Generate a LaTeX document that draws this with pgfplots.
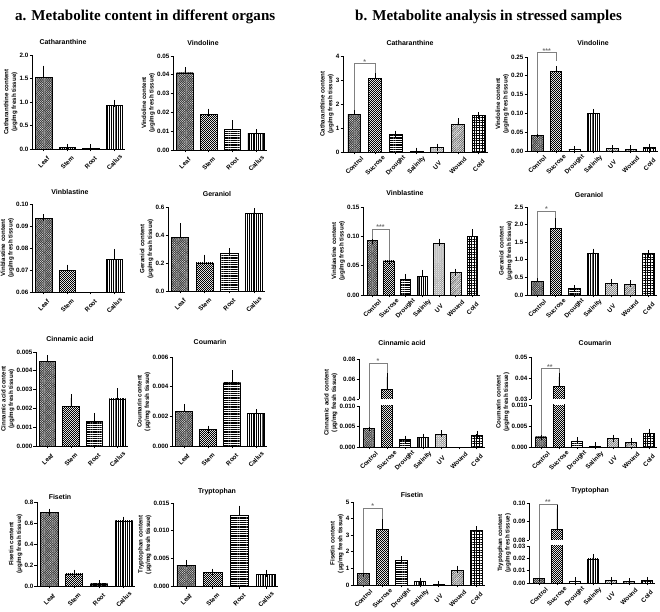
\documentclass[border=0pt]{standalone}
\usepackage{fontspec}
\setmainfont{Liberation Sans}
\newfontfamily\serifbold{Liberation Serif}
\usepackage{pgfplots}
\pgfplotsset{compat=1.18}
\usetikzlibrary{patterns,patterns.meta}
\newcommand\fs[1]{\fontsize{#1}{#1}\selectfont}

% fine checkerboard for the Stem / Sucrose bars
\pgfdeclarepatternformonly{finechecker}{\pgfqpoint{0pt}{0pt}}{\pgfqpoint{2pt}{2pt}}{\pgfqpoint{2pt}{2pt}}{%
  \pgfpathrectangle{\pgfqpoint{0pt}{0pt}}{\pgfqpoint{1pt}{1pt}}%
  \pgfpathrectangle{\pgfqpoint{1pt}{1pt}}{\pgfqpoint{1pt}{1pt}}%
  \pgfusepath{fill}}

\pgfplotsset{
  panel/.style={
    scale only axis, anchor=south west, clip mode=individual,
    axis x line*=bottom, axis y line*=left,
    axis line style={line width=0.8pt},
    every tick/.style={black, line width=0.8pt},
    major tick length=2.5bp, tick align=outside,
    ymin=0, scaled y ticks=false,
    /pgf/number format/assume math mode=true,
    tick label style={font=\bfseries\fs{6.3}},
    yticklabel style={/pgf/number format/fixed, /pgf/number format/fixed zerofill, inner sep=1bp},
    xticklabel style={yshift=-11bp, rotate=45, anchor=center, inner sep=0pt},
    every axis title/.style={at={(0.5,1)}, anchor=center, font=\bfseries\fs{7}, inner sep=0pt},
    ylabel style={font=\bfseries\fontsize{6.2}{7.6}\selectfont, align=center, inner sep=1bp},
  },
  organ/.style={panel, xmin=-0.5, xmax=3.45, bar width=0.7,
    xtick={0,1,2,3}, xticklabels={Leaf,Stem,Root,Callus}},
  stress/.style={panel, xmin=-0.55, xmax=6.45, bar width=0.62,
    xtick={0,1,2,3,4,5,6}, xticklabels={Control,Sucrose,Drought,Salinity,UV,Wound,Cold}},
  prec/.style={yticklabel style={/pgf/number format/precision=#1}},
  ttl/.style 2 args={title style={xshift=#1bp, yshift=#2bp}},
  bb/.style={ybar, bar shift=0pt, draw=black, line width=0.8pt,
    error bars/y dir=plus, error bars/y explicit,
    error bars/error bar style={line width=0.8pt, black},
    error bars/error mark options={line width=0.8pt, mark size=3.5bp, black}},
  c0/.style={bb, pattern={Hatch[angle=45, distance=1.6pt, line width=0.7pt]}, pattern color=black!75},
  c1/.style={bb, pattern=finechecker, pattern color=black},
  c2/.style={bb, pattern={Lines[angle=0, distance=1.8pt, line width=0.5pt]}, pattern color=black},
  c3/.style={bb, pattern={Lines[angle=90, distance=1.8pt, line width=0.5pt]}, pattern color=black},
  c4/.style={bb, pattern={Hatch[angle=45, distance=1.4pt, line width=0.35pt]}, pattern color=black!45},
  c5/.style={bb, pattern={Lines[angle=45, distance=1.3pt, line width=0.5pt]}, pattern color=black!70},
  c6/.style={bb, pattern={Hatch[angle=0, distance=2.6pt, line width=0.5pt]}, pattern color=black},
}
\tikzset{
  brk/.style={black!50, line width=0.6pt},
  star/.style={font=\bfseries\fs{7}, text=black!55, anchor=base, inner sep=0pt, yshift=-1bp},
  mtitle/.style={anchor=base west, font=\serifbold\bfseries\fs{15.1}, inner sep=0pt},
}

\begin{document}
\begin{tikzpicture}
\useasboundingbox (0,0) rectangle (660bp,612bp);
\node[mtitle] at (15bp,591bp) {a. Metabolite content in different organs};
\node[mtitle] at (355bp,591bp) {b. Metabolite analysis in stressed samples};

% ---------------- a: organs ----------------
\begin{axis}[organ, at={(32bp,463bp)}, width=93bp, height=94bp,
  ymax=2, ytick={0,0.5,1,1.5,2}, prec=1,
  title={Catharanthine}, ttl={-15.5}{13},
  ylabel={Catharanthine content\\(μg/mg fresh tissue)}]
\addplot[c0] coordinates {(0,1.53) +- (0,0.17)};
\addplot[c1] coordinates {(1,0.03) +- (0,0.005)};
\addplot[c2] coordinates {(2,0.02) +- (0,0.005)};
\addplot[c3] coordinates {(3,0.93) +- (0,0.04)};
\end{axis}

\begin{axis}[organ, at={(173bp,462bp)}, width=94bp, height=94bp,
  ymax=0.05, ytick={0,0.01,0.02,0.03,0.04,0.05}, prec=2,
  title={Vindoline}, ttl={-17}{13},
  ylabel={Vindoline content\\(μg/mg fresh tissue)}]
\addplot[c0] coordinates {(0,0.041) +- (0,0.0012)};
\addplot[c1] coordinates {(1,0.019) +- (0,0.0012)};
\addplot[c2] coordinates {(2,0.011) +- (0,0.003)};
\addplot[c3] coordinates {(3,0.0088) +- (0,0.0003)};
\end{axis}

\begin{axis}[organ, at={(32bp,320bp)}, width=93bp, height=88bp,
  ymin=0.06, ymax=0.10, ytick={0.06,0.07,0.08,0.09,0.10}, prec=2,
  title={Vinblastine}, ttl={-8.5}{12},
  ylabel={Vinblastine content\\(μg/mg fresh tissue)}]
\addplot[c0] coordinates {(0,0.0935) +- (0,0.0002)};
\addplot[c1] coordinates {(1,0.0698) +- (0,0.001)};
\addplot[c3] coordinates {(3,0.0748) +- (0,0.0032)};
\end{axis}

\begin{axis}[organ, at={(168bp,321bp)}, width=97bp, height=84bp,
  ymax=0.6, ytick={0,0.2,0.4,0.6}, prec=1,
  title={Geraniol}, ttl={0.5}{13},
  ylabel={Geraniol content\\(μg/mg fresh tissue)}]
\addplot[c0] coordinates {(0,0.38) +- (0,0.08)};
\addplot[c1] coordinates {(1,0.20) +- (0,0.035)};
\addplot[c2] coordinates {(2,0.27) +- (0,0.012)};
\addplot[c3] coordinates {(3,0.555) +- (0,0.012)};
\end{axis}

\begin{axis}[organ, at={(36bp,166bp)}, width=92bp, height=94bp,
  ymax=0.005, ytick={0,0.001,0.002,0.003,0.004,0.005}, prec=3,
  title={Cinnamic acid}, ttl={-12}{13},
  ylabel={Cinnamic acid content\\(μg/mg fresh tissue)}]
\addplot[c0] coordinates {(0,0.0045) +- (0,0.00015)};
\addplot[c1] coordinates {(1,0.0021) +- (0,0.00046)};
\addplot[c2] coordinates {(2,0.0013) +- (0,0.00027)};
\addplot[c3] coordinates {(3,0.0025) +- (0,0.00038)};
\end{axis}

\begin{axis}[organ, at={(172bp,166bp)}, width=95bp, height=89bp,
  ymax=0.006, ytick={0,0.002,0.004,0.006}, prec=3,
  title={Coumarin}, ttl={-9.5}{15},
  ylabel={Coumarin content\\(μg/mg fresh tissue)}]
\addplot[c0] coordinates {(0,0.00235) +- (0,0.00025)};
\addplot[c1] coordinates {(1,0.0011) +- (0,0.00003)};
\addplot[c2] coordinates {(2,0.00425) +- (0,0.00062)};
\addplot[c3] coordinates {(3,0.00222) +- (0,0.00003)};
\end{axis}

\begin{axis}[organ, at={(37bp,26bp)}, width=98bp, height=84bp,
  ymax=0.8, ytick={0,0.2,0.4,0.6,0.8}, prec=1,
  title={Fisetin}, ttl={-26}{5},
  ylabel={Fisetin content\\(μg/mg fresh tissue)}]
\addplot[c0] coordinates {(0,0.70) +- (0,0.003)};
\addplot[c1] coordinates {(1,0.115) +- (0,0.008)};
\addplot[c2] coordinates {(2,0.02) +- (0,0.002)};
\addplot[c3] coordinates {(3,0.62) +- (0,0.008)};
\end{axis}

\begin{axis}[organ, at={(173bp,26bp)}, width=105bp, height=83bp,
  ymax=0.015, ytick={0,0.005,0.01,0.015}, prec=3,
  title={Tryptophan}, ttl={-8.5}{11},
  ylabel={Tryptophan content\\(μg/mg fresh tissue)}]
\addplot[c0] coordinates {(0,0.0037) +- (0,0.0004)};
\addplot[c1] coordinates {(1,0.0024) +- (0,0.0001)};
\addplot[c2] coordinates {(2,0.0128) +- (0,0.0011)};
\addplot[c3] coordinates {(3,0.0021) +- (0,0.0002)};
\end{axis}

% ---------------- b: stress ----------------
\begin{axis}[stress, at={(343bp,460bp)}, width=145bp, height=96bp,
  ymax=4, ytick={0,1,2,3,4}, prec=0,
  title={Catharanthine}, ttl={-5.5}{13},
  ylabel={Catharanthine content\\(μg/mg fresh tissue)}]
\addplot[c0] coordinates {(0,1.55) +- (0,0.17)};
\addplot[c1] coordinates {(1,3.05) +- (0,0.2)};
\addplot[c2] coordinates {(2,0.72) +- (0,0.02)};
\addplot[c3] coordinates {(3,0.03) +- (0,0.003)};
\addplot[c4] coordinates {(4,0.19) +- (0,0.01)};
\addplot[c5] coordinates {(5,1.14) +- (0,0.12)};
\addplot[c6] coordinates {(6,1.51) +- (0,0.01)};
\draw[brk] (axis cs:0,1.76) -- (axis cs:0,3.7) -- (axis cs:1,3.7) -- (axis cs:1,3.28);
\node[star] at (axis cs:0.5,3.7) {*};
\end{axis}

\begin{axis}[stress, at={(527bp,461bp)}, width=131bp, height=94bp,
  ymax=0.25, ytick={0,0.05,0.1,0.15,0.2,0.25}, prec=2,
  title={Vindoline}, ttl={0.5}{14},
  ylabel={Vindoline content\\(μg/mg fresh tissue)}]
\addplot[c0] coordinates {(0,0.041) +- (0,0.002)};
\addplot[c1] coordinates {(1,0.212) +- (0,0.005)};
\addplot[c2] coordinates {(2,0.004) +- (0,0.0005)};
\addplot[c3] coordinates {(3,0.101) +- (0,0.002)};
\addplot[c4] coordinates {(4,0.006) +- (0,0.0005)};
\addplot[c5] coordinates {(5,0.005) +- (0,0.0005)};
\addplot[c6] coordinates {(6,0.009) +- (0,0.001)};
\draw[brk] (axis cs:0,0.046) -- (axis cs:0,0.262) -- (axis cs:1,0.262) -- (axis cs:1,0.24);
\node[star] at (axis cs:0.5,0.262) {***};
\end{axis}

\begin{axis}[stress, at={(363bp,317bp)}, width=117bp, height=88bp,
  ymax=0.15, ytick={0,0.05,0.1,0.15}, prec=2,
  title={Vinblastine}, ttl={-16.5}{14},
  ylabel={Vinblastine content\\(μg/mg fresh tissue)}]
\addplot[c0] coordinates {(0,0.093) +- (0,0.0005)};
\addplot[c1] coordinates {(1,0.058) +- (0,0.0005)};
\addplot[c2] coordinates {(2,0.027) +- (0,0.003)};
\addplot[c3] coordinates {(3,0.032) +- (0,0.005)};
\addplot[c4] coordinates {(4,0.088) +- (0,0.002)};
\addplot[c5] coordinates {(5,0.038) +- (0,0.001)};
\addplot[c6] coordinates {(6,0.100) +- (0,0.006)};
\draw[brk] (axis cs:0,0.095) -- (axis cs:0,0.1125) -- (axis cs:1,0.1125) -- (axis cs:1,0.06);
\node[star] at (axis cs:0.5,0.1125) {***};
\end{axis}

\begin{axis}[stress, at={(527bp,317bp)}, width=130bp, height=88bp,
  ymax=2.5, ytick={0,0.5,1,1.5,2,2.5}, prec=1,
  title={Geraniol}, ttl={-3}{12},
  ylabel={Geraniol content\\(μg/mg fresh tissue)}]
\addplot[c0] coordinates {(0,0.38) +- (0,0.08)};
\addplot[c1] coordinates {(1,1.88) +- (0,0.3)};
\addplot[c2] coordinates {(2,0.18) +- (0,0.01)};
\addplot[c3] coordinates {(3,1.18) +- (0,0.04)};
\addplot[c4] coordinates {(4,0.33) +- (0,0.015)};
\addplot[c5] coordinates {(5,0.31) +- (0,0.015)};
\addplot[c6] coordinates {(6,1.17) +- (0,0.005)};
\draw[brk] (axis cs:0,0.47) -- (axis cs:0,2.39) -- (axis cs:1,2.39) -- (axis cs:1,2.2);
\node[star] at (axis cs:0.5,2.39) {*};
\end{axis}

% Cinnamic acid, broken axis (bracket drawn in the lower part's units)
\begin{axis}[stress, at={(359bp,165bp)}, width=126bp, height=41bp,
  ymax=0.01, ytick={0,0.005,0.01}, prec=3,
  ylabel={Cinnamic acid content\\(μg/mg fresh tissue)},
  ylabel style={at={(ticklabel cs:1.085)}}]
\addplot[c0] coordinates {(0,0.0045) +- (0,0.0002)};
\addplot[c1] coordinates {(1,0.050) +- (0,0.012)};
\addplot[c2] coordinates {(2,0.0018) +- (0,0.0001)};
\addplot[c3] coordinates {(3,0.0023) +- (0,0.0001)};
\addplot[c4] coordinates {(4,0.0030) +- (0,0.0002)};
\addplot[c6] coordinates {(6,0.0029) +- (0,0.0002)};
\draw[brk] (axis cs:0,0.0049) -- (axis cs:0,0.0205) -- (axis cs:1,0.0205) -- (axis cs:1,0.0173);
\node[star] at (axis cs:0.5,0.0205) {*};
\end{axis}
\begin{axis}[stress, axis x line=none, at={(359bp,213bp)}, width=126bp, height=40bp,
  ymin=0.04, ymax=0.08, ytick={0.04,0.06,0.08}, prec=2,
  title={Cinnamic acid}, ttl={-20}{16}]
\addplot[c1] coordinates {(1,0.050) +- (0,0.012)};
\end{axis}

% Coumarin, broken axis
\begin{axis}[stress, at={(531bp,165bp)}, width=126bp, height=42bp,
  ymax=0.01, ytick={0,0.005,0.01}, prec=3,
  ylabel={Coumarin content\\(μg/mg fresh tissue)},
  ylabel style={at={(ticklabel cs:1.07)}}]
\addplot[c0] coordinates {(0,0.0024) +- (0,0.0002)};
\addplot[c1] coordinates {(1,0.036) +- (0,0.0045)};
\addplot[c2] coordinates {(2,0.0014) +- (0,0.0001)};
\addplot[c3] coordinates {(3,0.0002) +- (0,0.00005)};
\addplot[c4] coordinates {(4,0.0020) +- (0,0.0001)};
\addplot[c5] coordinates {(5,0.0011) +- (0,0.0001)};
\addplot[c6] coordinates {(6,0.0032) +- (0,0.0003)};
\draw[brk] (axis cs:0,0.0028) -- (axis cs:0,0.0188) -- (axis cs:1,0.0188) -- (axis cs:1,0.0167);
\node[star] at (axis cs:0.5,0.0188) {**};
\end{axis}
\begin{axis}[stress, axis x line=none, at={(531bp,213bp)}, width=126bp, height=42bp,
  ymin=0.03, ymax=0.05, ytick={0.03,0.04,0.05}, prec=2,
  title={Coumarin}, ttl={1}{14}]
\addplot[c1] coordinates {(1,0.036) +- (0,0.0045)};
\end{axis}

\begin{axis}[stress, at={(353bp,27bp)}, width=132bp, height=83bp,
  ymax=5, ytick={0,1,2,3,4,5}, prec=0,
  title={Fisetin}, ttl={-7}{7},
  ylabel={Fisetin content\\(μg/mg fresh tissue)}]
\addplot[c0] coordinates {(0,0.70) +- (0,0.01)};
\addplot[c1] coordinates {(1,3.32) +- (0,0.6)};
\addplot[c2] coordinates {(2,1.48) +- (0,0.03)};
\addplot[c3] coordinates {(3,0.23) +- (0,0.01)};
\addplot[c4] coordinates {(4,0.04) +- (0,0.005)};
\addplot[c5] coordinates {(5,0.85) +- (0,0.1)};
\addplot[c6] coordinates {(6,3.30) +- (0,0.04)};
\draw[brk] (axis cs:0,0.75) -- (axis cs:0,4.64) -- (axis cs:1,4.64) -- (axis cs:1,3.95);
\node[star] at (axis cs:0.5,4.64) {*};
\end{axis}

% Tryptophan, broken axis
\begin{axis}[stress, at={(529bp,29bp)}, width=126bp, height=37bp,
  ymax=0.03, ytick={0,0.01,0.02,0.03}, prec=2,
  ylabel={Tryptophan content\\(μg/mg fresh tissue)},
  ylabel style={at={(ticklabel cs:1.08)}}]
\addplot[c0] coordinates {(0,0.0035) +- (0,0.0005)};
\addplot[c1] coordinates {(1,0.086) +- (0,0.011)};
\addplot[c2] coordinates {(2,0.0015) +- (0,0.0002)};
\addplot[c3] coordinates {(3,0.0195) +- (0,0.0012)};
\addplot[c4] coordinates {(4,0.002) +- (0,0.0002)};
\addplot[c5] coordinates {(5,0.001) +- (0,0.0002)};
\addplot[c6] coordinates {(6,0.002) +- (0,0.0002)};
\draw[brk] (axis cs:0,0.0042) -- (axis cs:0,0.0641) -- (axis cs:1,0.0641) -- (axis cs:1,0.0619);
\node[star] at (axis cs:0.5,0.0641) {**};
\end{axis}
\begin{axis}[stress, axis x line=none, at={(529bp,72bp)}, width=126bp, height=37bp,
  ymin=0.08, ymax=0.10, ytick={0.08,0.09,0.10}, prec=2,
  title={Tryptophan}, ttl={-2}{12}]
\addplot[c1] coordinates {(1,0.086) +- (0,0.011)};
\end{axis}
\end{tikzpicture}
\end{document}
